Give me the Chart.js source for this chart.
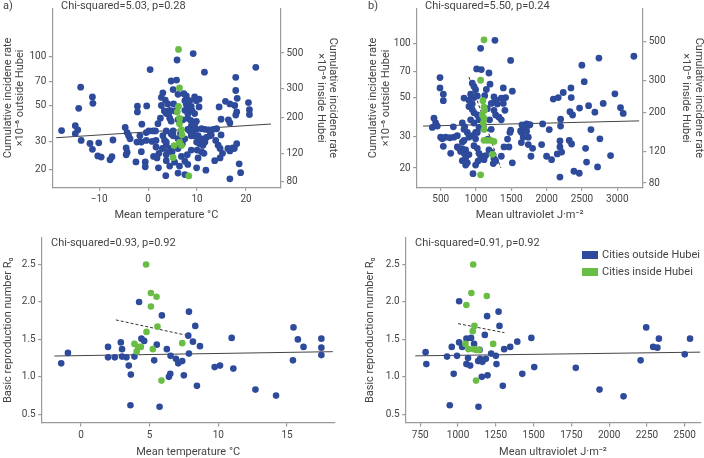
<!DOCTYPE html>
<html>
<head>
<meta charset="utf-8">
<script src="https://cdn.jsdelivr.net/npm/chart.js@4.4.1/dist/chart.umd.min.js"></script>
<style>
  body { margin: 0; background: #fff; width: 704px; height: 458px; position: relative; overflow: hidden; font-family: Roboto, sans-serif; color: #444; }
  canvas { position: absolute; }
  .note { position: absolute; font-size: 11px; line-height: 12px; white-space: nowrap; }
  .key { position: absolute; width: 16px; height: 8px; }
</style>
</head>
<body>
<canvas id="panelA" width="352" height="229" style="left:0;top:0"></canvas>
<canvas id="panelB" width="352" height="229" style="left:352px;top:0"></canvas>
<canvas id="panelC" width="352" height="229" style="left:0;top:229px"></canvas>
<canvas id="panelD" width="352" height="229" style="left:352px;top:229px"></canvas>

<div class="note" style="left:3px;top:0">a)</div>
<div class="note" style="left:61px;top:0">Chi-squared=5.03, p=0.28</div>
<div class="note" style="left:368px;top:0">b)</div>
<div class="note" style="left:425px;top:0">Chi-squared=5.50, p=0.24</div>
<div class="note" style="left:51px;top:237px">Chi-squared=0.93, p=0.92</div>
<div class="note" style="left:415px;top:237px">Chi-squared=0.91, p=0.92</div>

<div class="key" style="left:582px;top:251px;background:#2e4a9b"></div>
<div class="note" style="left:602px;top:249px">Cities outside Hubei</div>
<div class="key" style="left:582px;top:268px;background:#69bd45"></div>
<div class="note" style="left:602px;top:266px">Cities inside Hubei</div>

<script>
// Panel a: temperature vs cumulative incidence (outside Hubei on left axis, Hubei on right axis)
const tempOutA = [
  -17.7, -14.9, -14.4, -14.9, -13.8, -14.2, -13.7, -11.4, -11.3, -11.9,
  -10.1, -11.4, -10.3, -9.6, -7.8, -7.4, -7.2, -4.7, -4.3, -4.0,
  -3.7, -4.5, -4.5, -4.3, -2.5, -2.2, -2.2, -0.3, -1.3, -1.7,
  -2.3, -1.4, -0.6, -0.6, 0.4, 0.15, -0.4, 0.8, 1.6, 2.0,
  2.5, 1.6, 1.1, 1.8, 2.2, 2.1, 3.0, 2.7, 3.5, 2.7,
  3.3, 4.0, 3.7, 2.9, 3.7, 3.6, 4.4, 4.7, 4.7, 4.9,
  4.4, 5.1, 5.8, 5.2, 5.4, 6.1, 5.9, 5.1, 6.1, 6.1,
  6.8, 5.4, 6.4, 7.5, 7.3, 7.8, 8.5, 7.8, 8.5, 8.1,
  9.0, 8.1, 8.7, 8.8, 8.5, 9.5, 9.9, 9.4, 9.9, 10.5,
  10.0, 8.8, 8.0, 10.2, 9.9, 9.2, 9.5, 10.4, 10.4, 11.5,
  11.2, 11.4, 11.8, 11.9, 12.4, 12.6, 13.3, 14.0, 13.8, 13.6,
  14.3, 14.7, 14.5, 14.9, 14.9, 15.2, 14.7, 15.8, 16.7, 16.4,
  16.7, 16.3, 16.7, 17.3, 16.7, 17.9, 17.9, 18.2, 17.7, 18.1,
  17.9, 18.1, 17.6, 18.6, 18.9, 20.5, 20.7, 20.7, 22.0,
  4.4, 3.7, 4.7, 3.7, 5.1, 4.7, 3.7, 6.1, 7.5, 8.8,
  9.85, 7.5, 9.5, 7.1, 9.85, 8.1, 9.2, 10.9, 11.6, 7.5,
  8.8, 10.2, 10.9, 11.6, 10.9, 7.5, 8.1, 6.1, 4.2, 3.0,
  3.35, 3.7, 4.0, -0.4, 1.0, 1.5, -1.4, 6.6, 7.0, 12.9
];
const rateOutA = [
  35.0, 37.5, 35.3, 33.5, 64.9, 48.0, 30.4, 56.5, 51.6, 29.1,
  29.4, 26.8, 24.4, 24.0, 23.1, 24.1, 30.6, 36.6, 34.0, 32.5,
  31.1, 27.3, 24.8, 25.7, 22.4, 49.5, 45.6, 49.7, 38.3, 32.5,
  29.7, 25.9, 22.4, 20.9, 83.4, 34.8, 30.4, 30.0, 30.4, 38.6,
  41.7, 27.7, 24.2, 23.7, 25.3, 20.6, 59.9, 56.1, 54.0, 50.0,
  46.3, 51.1, 29.7, 27.1, 22.8, 18.4, 41.7, 70.9, 33.3, 25.9,
  21.1, 62.7, 71.8, 51.1, 46.3, 40.8, 95.6, 34.8, 31.1, 27.1,
  24.2, 22.3, 21.1, 18.7, 59.2, 57.3, 53.5, 50.7, 47.8, 44.6,
  46.3, 41.7, 40.4, 37.3, 34.8, 38.1, 35.6, 32.5, 29.7, 29.0,
  26.5, 26.5, 24.8, 23.7, 20.6, 104.7, 56.5, 54.7, 49.0, 80.4,
  28.4, 25.3, 19.9, 31.7, 35.3, 32.5, 35.6, 35.9, 30.4, 22.8,
  28.4, 27.1, 49.0, 41.1, 32.9, 25.3, 23.7, 53.1, 51.1, 40.8,
  39.0, 27.1, 26.2, 27.3, 17.6, 74.7, 61.9, 55.4, 50.0, 45.6,
  43.6, 29.0, 27.1, 21.8, 19.2, 52.1, 47.1, 44.0, 86.1,
  46.7, 44.6, 40.0, 34.8, 32.5, 27.1, 24.8, 58.6, 53.5, 49.4,
  53.5, 46.7, 44.6, 40.8, 39.9, 35.6, 34.8, 35.9, 35.6, 31.1,
  32.5, 32.5, 31.1, 29.7, 25.9, 22.6, 21.6, 19.1, 44.6, 32.5,
  30.4, 28.4, 25.9, 34.0, 34.8, 34.8, 29.7, 33.5, 29.0, 32.8
];
const tempInA = [6.2, 6.4, 6.2, 5.95, 6.4, 6.4, 6.8, 6.9, 5.3, 6.8, 6.4, 5.1, 8.3];
const rateInA = [527, 304, 234, 216, 197, 183, 168, 156, 134, 134, 140, 113, 87];
const fitOutA_x = [-18.8, 25.1], fitOutA_y = [31.6, 38.4];
const fitInA_x = [5.75, 9.86], fitInA_y = [184, 147];

// Panel b: ultraviolet vs cumulative incidence
const uvOutB = [
  1268, 1065, 1490, 490, 490, 537, 537, 1009, 1075, 1183,
  947, 971, 994, 924, 830, 900, 971, 1018, 900, 947,
  1198, 1254, 1278, 1301, 1358, 1419, 1386, 1216, 1160, 1254,
  1278, 1325, 1358, 1514, 1386, 947, 971, 1018, 924, 971,
  1042, 806, 839, 405, 428, 452, 381, 679, 735, 688,
  499, 523, 570, 631, 830, 877, 900, 947, 994, 830,
  806, 1042, 1018, 994, 537, 641, 735, 759, 806, 853,
  782, 830, 900, 853, 806, 877, 853, 971, 1018, 1042,
  1065, 1028, 994, 957, 1113, 1136, 1183, 1216, 1254, 1244,
  1278, 1358, 1396, 1466, 1514, 1480, 1490, 1631, 1641, 1669,
  1146, 1123, 1409, 1446, 1192, 1215, 1169, 3235, 2740, 2499,
  2532, 2344, 2235, 2348, 2164, 2094, 2966, 2801, 2594, 2466,
  2683, 2330, 2367, 3046, 3084, 2197, 1943, 1716, 1650, 1716,
  1670, 1763, 1716, 1645, 2037, 2197, 2627, 1740, 1740, 1801,
  1778, 1929, 1999, 2070, 2188, 2188, 2212, 2150, 2320, 2353,
  2551, 2754, 2565, 2905, 2721, 2188, 2386, 2462
];
const rateOutB = [
  104.2, 94.0, 80.4, 64.4, 56.3, 51.9, 47.8, 72.0, 71.4, 68.3,
  59.9, 57.4, 55.1, 51.9, 49.4, 48.1, 49.7, 50.8, 44.3, 45.8,
  59.1, 50.1, 48.1, 45.8, 49.4, 49.7, 46.1, 46.1, 43.1, 42.2,
  39.7, 38.6, 37.3, 54.0, 56.3, 42.6, 40.9, 39.7, 37.3, 35.8,
  37.3, 35.8, 34.1, 38.1, 35.8, 34.4, 33.8, 34.1, 30.4, 29.8,
  29.8, 29.2, 29.8, 29.6, 33.0, 31.7, 29.8, 30.4, 31.7, 28.6,
  28.0, 33.8, 31.7, 29.2, 26.5, 24.2, 26.3, 25.8, 25.6, 25.3,
  24.8, 24.2, 23.8, 22.8, 22.0, 21.4, 20.8, 26.7, 25.8, 24.2,
  23.3, 21.9, 20.8, 18.6, 22.3, 23.5, 25.3, 24.6, 22.6, 21.2,
  21.9, 23.3, 26.3, 26.3, 21.4, 31.7, 32.6, 32.3, 27.8, 29.8,
  55.2, 50.9, 42.2, 29.1, 37.3, 33.0, 29.1, 84.8, 82.8, 75.6,
  61.1, 56.3, 53.1, 49.7, 49.7, 48.8, 52.2, 46.1, 44.8, 43.4,
  41.2, 41.4, 39.7, 43.6, 40.5, 37.6, 35.4, 35.4, 34.9, 34.0,
  33.0, 35.0, 32.2, 31.7, 32.9, 34.4, 32.9, 29.8, 27.1, 25.8,
  23.3, 27.1, 23.3, 22.3, 28.4, 26.3, 24.6, 24.0, 28.6, 27.3,
  25.8, 29.2, 21.6, 23.5, 20.3, 17.8, 19.2, 18.7
];
const uvInB = [1113, 1065, 1098, 1113, 1122, 1089, 1113, 1103, 1113, 1113, 1160, 1207, 1254, 1230, 1065];
const rateInB = [509, 302, 232, 213, 205, 193, 185, 174, 160, 139, 139, 139, 137, 116, 89];
const fitOutB_x = [250, 3310], fitOutB_y = [34.4, 36.8];
const fitInB_x = [900, 1349], fitInB_y = [315, 97.5];

// Panel c: temperature vs R0
const tempOutC = [
  -1.44, -0.95, 1.97, 1.97, 2.46, 2.9, 2.99, 2.99, 3.31, 3.48,
  3.63, 3.6, 3.89, 4.23, 4.4, 4.6, 5.33, 5.52, 5.72, 5.89,
  6.25, 6.52, 6.91, 7.08, 7.37, 6.4, 6.5, 7.49, 7.86, 7.81,
  7.86, 8.15, 8.32, 8.66, 8.44, 9.73, 10.12, 10.97, 11.09, 12.7,
  14.2, 15.47, 15.43, 15.79, 16.2, 17.5, 17.5, 17.5
];
const r0OutC = [
  1.18, 1.32, 1.40, 1.26, 1.26, 1.46, 1.37, 1.27, 1.26, 1.15,
  1.03, 0.62, 1.27, 2.00, 1.51, 1.48, 1.22, 1.43, 0.60, 1.82,
  1.37, 1.28, 1.24, 1.18, 1.21, 1.00, 1.04, 1.02, 1.87, 1.55,
  1.31, 1.47, 1.68, 1.41, 0.88, 1.13, 1.15, 1.52, 1.11, 0.83,
  0.75, 1.66, 1.22, 1.50, 1.40, 1.51, 1.39, 1.29
];
const tempInC = [4.74, 5.09, 5.5, 5.09, 5.57, 4.77, 3.89, 4.16, 4.36, 4.06, 5.23, 7.37, 5.86];
const r0InC = [2.50, 2.12, 2.07, 1.94, 1.67, 1.60, 1.44, 1.40, 1.40, 1.34, 1.37, 1.45, 0.95];
const fitOutC_x = [-1.94, 18.33], fitOutC_y = [1.278, 1.336];
const fitInC_x = [2.54, 7.55], fitInC_y = [1.76, 1.56];

// Panel d: ultraviolet vs R0
const uvOutD = [
  785, 790, 945, 958, 971, 927, 993, 1007, 1007, 1027,
  1055, 1086, 1106, 1066, 1055, 1080, 1135, 1157, 1195, 1142,
  1146, 1133, 1162, 1184, 1177, 1192, 1268, 1274, 1219, 1250,
  1254, 1296, 1305, 1345, 1392, 1425, 1485, 1504, 1779, 1936,
  2095, 2245, 2208, 2329, 2291, 2319, 2535, 2500, 1161
];
const r0OutD = [
  1.33, 1.17, 0.62, 1.40, 1.04, 1.27, 1.28, 2.01, 1.46, 1.40,
  1.51, 1.52, 1.44, 1.25, 1.17, 1.15, 0.60, 1.00, 1.02, 1.36,
  1.24, 1.21, 1.22, 1.24, 1.56, 1.81, 1.87, 1.68, 1.31, 1.28,
  1.17, 0.88, 1.37, 1.40, 1.47, 1.04, 1.52, 1.13, 1.12, 0.83,
  0.74, 1.66, 1.22, 1.51, 1.40, 1.39, 1.51, 1.30, 1.20
];
const uvInD = [1100, 1088, 1190, 1055, 1108, 1097, 1049, 1069, 1104, 1122, 1137, 1232, 1119];
const r0InD = [2.50, 2.12, 2.08, 1.96, 1.68, 1.61, 1.44, 1.37, 1.37, 1.36, 1.36, 1.44, 0.95];
const fitOutD_x = [717, 2605], fitOutD_y = [1.28, 1.33];
const fitInD_x = [1000, 1307], fitInD_y = [1.71, 1.59];

// Tick labels
const tempTicksTop = [-10, 0, 10, 20];
const uvTicksTop = [500, 1000, 1500, 2000, 2500, 3000];
const rateTicks = [20, 30, 50, 70, 100];
const rateTicksHubei = [80, 120, 200, 300, 500];
const tempTicksBottom = [0, 5, 10, 15];
const uvTicksBottom = [750, 1000, 1250, 1500, 1750, 2000, 2250, 2500];
const r0Ticks = [0.5, 1.0, 1.5, 2.0, 2.5];

const BLUE = '#2e4a9b';
const GREEN = '#69bd45';
const AXIS_COLOR = '#9a9a9a';
const TEXT_COLOR = '#444';
const FONT = 'Roboto';

const titleOut = ['Cumulative incidene rate', '×10⁻⁶ outside Hubei'];
const titleIn = ['Cumulative incidene rate', '×10⁻⁶ inside Hubei'];

// Builds one axis with fixed ticks and a fixed thickness
function makeAxis(o) {
  return {
    type: o.type || 'linear',
    position: o.position,
    min: o.min,
    max: o.max,
    bounds: 'data',
    afterBuildTicks: s => { s.ticks = o.ticks.map(v => ({ value: v })); },
    afterFit: s => {
      if (o.position === 'bottom') s.height = o.size;
      else s.width = o.size;
    },
    border: { color: AXIS_COLOR, width: 1.2 },
    grid: { drawOnChartArea: false, tickLength: 3.5, color: AXIS_COLOR, lineWidth: 1.2 },
    ticks: {
      autoSkip: false, maxRotation: 0, padding: 2.5, color: TEXT_COLOR,
      font: { family: FONT, size: 10 },
      callback: o.format || (v => String(v).replace('-', '\u2212'))
    },
    title: {
      display: true, text: o.title, color: TEXT_COLOR,
      font: { family: FONT, size: 11, lineHeight: 1.15 },
      padding: o.titlePad
    }
  };
}

function dots(label, xs, ys, color, axis, r) {
  return {
    label: label,
    data: xs.map((x, i) => ({ x: x, y: ys[i] })),
    yAxisID: axis || 'y',
    backgroundColor: color,
    borderWidth: 0,
    pointRadius: r,
    pointHoverRadius: r,
    order: color === GREEN ? 0 : 1
  };
}

function fitLine(xs, ys, dashed, axis) {
  return {
    data: xs.map((x, i) => ({ x: x, y: ys[i] })),
    yAxisID: axis || 'y',
    showLine: true,
    borderColor: dashed ? '#333' : '#444',
    borderWidth: 1,
    borderDash: dashed ? [3, 2] : [],
    pointRadius: 0,
    order: 2
  };
}

function drawPanel(id, datasets, scales, pad) {
  new Chart(document.getElementById(id), {
    type: 'scatter',
    data: { datasets: datasets },
    options: {
      responsive: false,
      animation: false,
      devicePixelRatio: 1,
      events: [],
      layout: { padding: pad },
      plugins: { legend: { display: false }, tooltip: { enabled: false } },
      scales: scales
    }
  });
}

const oneDecimal = v => v.toFixed(1);

// a)
drawPanel('panelA', [
  dots('Cities inside Hubei', tempInA, rateInA, GREEN, 'y2', 3.4),
  dots('Cities outside Hubei', tempOutA, rateOutA, BLUE, 'y', 3.4),
  fitLine(fitOutA_x, fitOutA_y, false),
  fitLine(fitInA_x, fitInA_y, true, 'y2')
], {
  x: makeAxis({ position: 'bottom', min: -19.6, max: 27.05, ticks: tempTicksTop, size: 41.7,
    title: 'Mean temperature °C', titlePad: { top: 0, bottom: 7.5 } }),
  y: makeAxis({ type: 'logarithmic', position: 'left', min: 15.6, max: 199, ticks: rateTicks, size: 52.3,
    title: titleOut, titlePad: { top: 1.7 } }),
  y2: makeAxis({ type: 'logarithmic', position: 'right', min: 15.6 * 4.74, max: 199 * 4.74, ticks: rateTicksHubei, size: 71.5,
    title: titleIn, titlePad: { top: 12.7 } })
}, 0);

// b)
drawPanel('panelB', [
  dots('Cities inside Hubei', uvInB, rateInB, GREEN, 'y2', 3.4),
  dots('Cities outside Hubei', uvOutB, rateOutB, BLUE, 'y', 3.4),
  fitLine(fitOutB_x, fitOutB_y, false),
  fitLine(fitInB_x, fitInB_y, true, 'y2')
], {
  x: makeAxis({ position: 'bottom', min: 160, max: 3360, ticks: uvTicksTop, size: 41.7,
    title: 'Mean ultraviolet J·m⁻²', titlePad: { top: 0, bottom: 7.5 } }),
  y: makeAxis({ type: 'logarithmic', position: 'left', min: 15.6, max: 157.2, ticks: rateTicks, size: 64.7,
    title: titleOut, titlePad: { top: 15.4 } }),
  y2: makeAxis({ type: 'logarithmic', position: 'right', min: 15.6 * 4.854, max: 157.2 * 4.854, ticks: rateTicksHubei, size: 61.3,
    title: titleIn, titlePad: { top: -1 } })
}, 0);

// c)
drawPanel('panelC', [
  dots('Cities inside Hubei', tempInC, r0InC, GREEN, 'y', 3.3),
  dots('Cities outside Hubei', tempOutC, r0OutC, BLUE, 'y', 3.3),
  fitLine(fitOutC_x, fitOutC_y, false),
  fitLine(fitInC_x, fitInC_y, true)
], {
  x: makeAxis({ position: 'bottom', min: -2.86, max: 18.47, ticks: tempTicksBottom, size: 35,
    title: 'Mean temperature °C', titlePad: { top: 0, bottom: -1 } }),
  y: makeAxis({ position: 'left', min: 0.384, max: 2.86, ticks: r0Ticks, size: 41.7, format: oneDecimal,
    title: 'Basic reproduction number R₀', titlePad: { top: 1.7 } })
}, { top: 8, right: 17.3, left: 0, bottom: 0 });

// d)
drawPanel('panelD', [
  dots('Cities inside Hubei', uvInD, r0InD, GREEN, 'y', 3.3),
  dots('Cities outside Hubei', uvOutD, r0OutD, BLUE, 'y', 3.3),
  fitLine(fitOutD_x, fitOutD_y, false),
  fitLine(fitInD_x, fitInD_y, true)
], {
  x: makeAxis({ position: 'bottom', min: 653.4, max: 2603, ticks: uvTicksBottom, size: 35,
    title: 'Mean ultraviolet J·m⁻²', titlePad: { top: 0, bottom: -1 } }),
  y: makeAxis({ position: 'left', min: 0.384, max: 2.86, ticks: r0Ticks, size: 53.7, format: oneDecimal,
    title: 'Basic reproduction number R₀', titlePad: { top: 11.7 } })
}, { top: 8, right: 3.7, left: 0, bottom: 0 });
</script>
</body>
</html>
